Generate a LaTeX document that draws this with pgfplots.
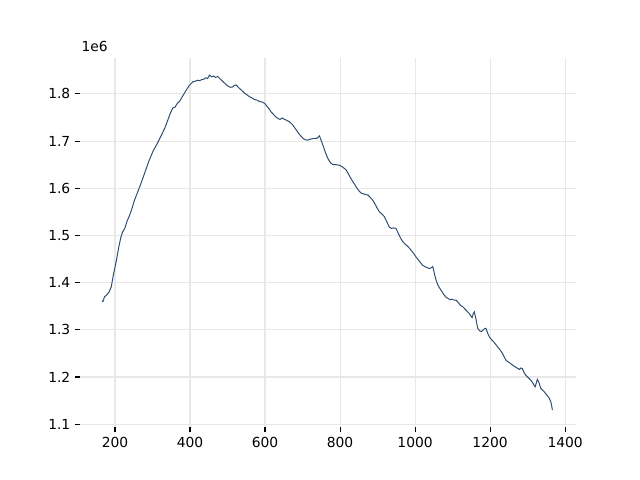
\documentclass[border=0pt]{standalone}
\usepackage{pgfplots}
\pgfplotsset{compat=1.18}
\usepackage{fontspec}
\setmainfont{DejaVu Sans}
\definecolor{linec}{RGB}{44,74,110}
\definecolor{gridc}{RGB}{232,232,232}
\begin{document}
\begin{tikzpicture}[x=1in,y=1in]
\useasboundingbox (0,0) rectangle (6.4,4.8);
\begin{axis}[
  at={(0.8in,0.528in)}, anchor=south west,
  scale only axis, width=4.96in, height=3.696in,
  xmin=106.7, xmax=1429, ymin=1.0936, ymax=1.877,
  axis line style={draw=none},
  xtick={200,400,...,1400}, ytick={1.1,1.2,...,1.85},
  xtick pos=bottom, ytick pos=left,
  tick align=outside, major tick length=3.5pt,
  every tick/.style={black, line width=0.8pt},
  grid=major, major grid style={gridc, line width=0.8pt},
  /pgf/number format/assume math mode=true,
  /pgf/number format/1000 sep={},
  yticklabel style={/pgf/number format/.cd, fixed, fixed zerofill, precision=1},
  tick label style={font=\fontsize{10}{12}\selectfont},
  clip=false,
]
\addplot[linec, line width=0.7pt] coordinates {
(165,1.3615)(168,1.360)(172,1.370)(178,1.374)(184,1.380)(190,1.391)(196,1.418)(204,1.448)(210,1.475)(215,1.494)(220,1.507)(226,1.515)(232,1.530)(238,1.541)(244,1.554)(252,1.575)(261,1.593)(270,1.612)(279,1.632)(290,1.657)(301,1.678)(312,1.694)(324,1.713)(333,1.728)(341,1.745)(348,1.760)(354,1.770)(360,1.772)(366,1.780)(372,1.784)(380,1.795)(390,1.808)(398,1.818)(408,1.826)(414,1.827)(420,1.829)(426,1.828)(430,1.830)(436,1.831)(442,1.834)(447,1.833)(452,1.840)(458,1.836)(463,1.838)(468,1.835)(474,1.837)(480,1.832)(488,1.826)(496,1.820)(502,1.816)(508,1.814)(514,1.815)(518,1.818)(523,1.819)(530,1.813)(537,1.808)(545,1.802)(552,1.798)(559,1.794)(566,1.791)(572,1.788)(578,1.787)(585,1.784)(592,1.783)(599,1.780)(606,1.773)(612,1.767)(616,1.762)(622,1.757)(628,1.752)(634,1.748)(640,1.746)(646,1.749)(652,1.746)(658,1.744)(665,1.741)(674,1.734)(683,1.724)(692,1.714)(701,1.706)(707,1.703)(714,1.702)(720,1.704)(726,1.705)(732,1.706)(738,1.706)(745,1.711)(749,1.703)(754,1.692)(760,1.678)(767,1.664)(772,1.657)(776,1.653)(782,1.650)(790,1.650)(798,1.649)(805,1.646)(810,1.643)(816,1.639)(822,1.631)(828,1.622)(834,1.614)(840,1.607)(846,1.599)(852,1.593)(858,1.589)(864,1.588)(870,1.586)(874,1.586)(880,1.581)(887,1.575)(893,1.567)(899,1.558)(905,1.550)(911,1.546)(918,1.540)(924,1.530)(931,1.518)(937,1.515)(943,1.516)(949,1.515)(955,1.505)(961,1.495)(967,1.487)(973,1.482)(979,1.478)(985,1.473)(991,1.467)(997,1.461)(1002,1.455)(1008,1.449)(1014,1.443)(1020,1.437)(1026,1.434)(1032,1.432)(1038,1.430)(1042,1.431)(1047,1.434)(1050,1.425)(1053,1.414)(1056,1.405)(1062,1.393)(1069,1.384)(1075,1.377)(1081,1.370)(1087,1.367)(1093,1.364)(1099,1.365)(1104,1.363)(1109,1.363)(1115,1.358)(1121,1.352)(1127,1.349)(1133,1.344)(1139,1.339)(1144,1.335)(1148,1.330)(1152,1.326)(1155,1.334)(1158,1.338)(1162,1.324)(1167,1.303)(1172,1.298)(1176,1.296)(1182,1.300)(1186,1.303)(1189,1.303)(1194,1.292)(1198,1.285)(1204,1.279)(1210,1.274)(1216,1.268)(1222,1.262)(1228,1.256)(1233,1.250)(1238,1.242)(1242,1.236)(1248,1.232)(1254,1.229)(1260,1.225)(1266,1.222)(1272,1.219)(1278,1.216)(1282,1.219)(1286,1.218)(1290,1.210)(1295,1.204)(1300,1.200)(1305,1.196)(1309,1.193)(1314,1.187)(1320,1.179)(1323,1.187)(1326,1.195)(1330,1.189)(1335,1.176)(1340,1.172)(1344,1.169)(1348,1.165)(1352,1.161)(1357,1.156)(1362,1.147)(1364,1.140)(1366,1.130)
};
\node[anchor=base west, inner sep=0pt, font=\fontsize{10}{12}\selectfont] at ([yshift=4.6pt,xshift=1pt]rel axis cs:0,1) {1e6};
\end{axis}
\end{tikzpicture}
\end{document}
